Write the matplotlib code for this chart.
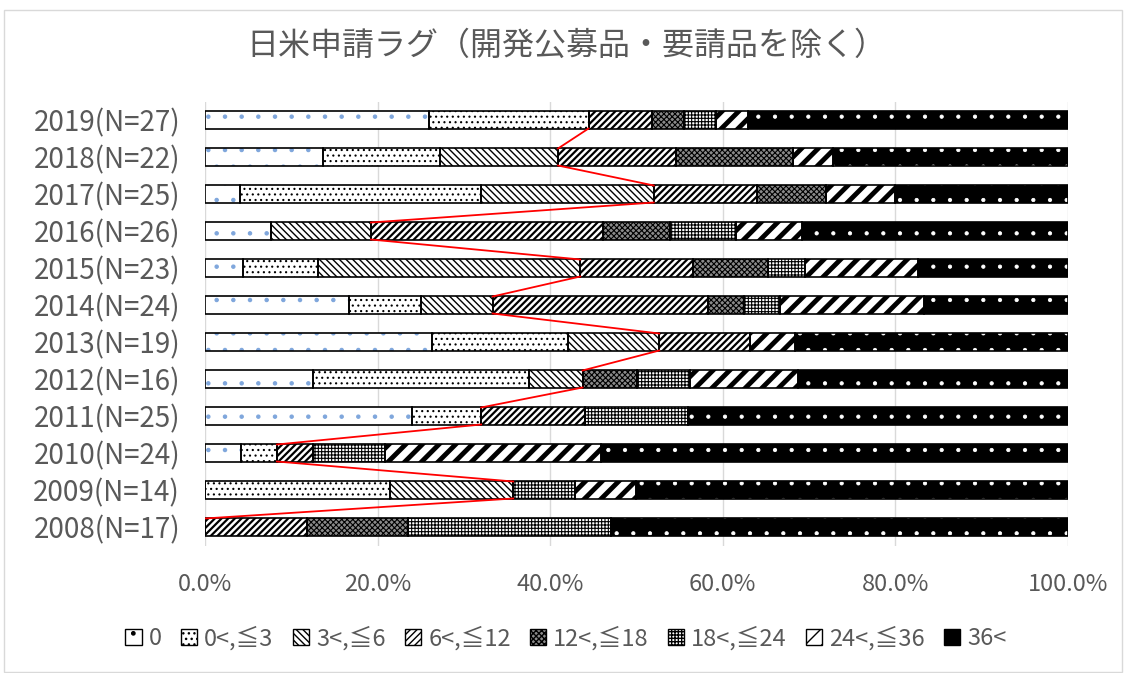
import numpy as np
import matplotlib
matplotlib.use("Agg")
import matplotlib.pyplot as plt
from matplotlib.patches import Patch, Rectangle

plt.rcParams['font.family'] = ['Noto Sans CJK JP', 'DejaVu Sans']

# data: number of products per lag class (months), 2008 .. 2019
years = [2008, 2009, 2010, 2011, 2012, 2013, 2014, 2015, 2016, 2017, 2018, 2019]
categories = ['0', '0<,≦3', '3<,≦6', '6<,≦12', '12<,≦18', '18<,≦24', '24<,≦36', '36<']
lag_0 = [0, 0, 1, 6, 2, 5, 4, 1, 2, 1, 3, 7]
lag_3 = [0, 3, 1, 2, 4, 3, 2, 2, 0, 7, 3, 5]
lag_6 = [0, 2, 0, 0, 1, 2, 2, 7, 3, 5, 3, 0]
lag_12 = [2, 0, 1, 3, 0, 2, 6, 3, 7, 3, 3, 2]
lag_18 = [2, 0, 0, 0, 1, 0, 1, 2, 2, 2, 3, 1]
lag_24 = [4, 1, 2, 3, 1, 0, 1, 1, 2, 0, 0, 1]
lag_36 = [0, 1, 6, 0, 2, 1, 4, 3, 2, 2, 1, 1]
lag_over = [9, 7, 13, 11, 5, 6, 4, 4, 8, 5, 6, 10]

counts = np.array([lag_0, lag_3, lag_6, lag_12, lag_18, lag_24, lag_36, lag_over], dtype=float)
totals = counts.sum(axis=0)
shares = counts / totals
labels = [f"{y}(N={int(n)})" for y, n in zip(years, totals)]

# (face, hatch colour, hatch, hatch linewidth)
styles = [
    ('white', '#7fa6dc', '.', 0.8),
    ('white', 'black', '...', 0.8),
    ('white', 'black', '\\\\\\\\\\', 1.0),
    ('white', 'black', '/////', 1.6),
    ('#8a8a8a', 'black', 'xxxxxx', 0.8),
    ('white', 'black', '+++++', 0.8),
    ('white', 'black', '//', 3.5),
    ('black', 'white', '.', 0.6),
]

fig = plt.figure(figsize=(11.32, 6.73), dpi=100)
ax = fig.add_axes([205 / 1132, 1 - 545.5 / 673, 863 / 1132, 444 / 673])

y = np.arange(len(years))
h = 0.46
left = np.zeros(len(years))
for k, (fc, hc, ht, lw) in enumerate(styles):
    with plt.rc_context({'hatch.linewidth': lw}):
        bars = ax.barh(y, shares[k], height=h, left=left, color=fc,
                       edgecolor=hc, hatch=ht, linewidth=0, zorder=2)
        for b in bars:
            if hasattr(b, 'set_hatch_linewidth'):
                b.set_hatch_linewidth(lw)
    ax.barh(y, shares[k], height=h, left=left, fill=False,
            edgecolor='black', linewidth=1.2, zorder=3)
    left += shares[k]

# series line at the end of "3<,≦6"
cum6 = shares[:3].sum(axis=0)
for i in range(len(years) - 1):
    ax.plot([cum6[i], cum6[i + 1]], [y[i] + h / 2, y[i + 1] - h / 2],
            color='#ff0000', linewidth=1.3, zorder=4)

ax.set_xlim(0, 1.0)
ax.set_ylim(-0.5, len(years) - 0.5)
ax.set_xticks(np.linspace(0, 1, 6))
ax.set_xticklabels([f"{v:.1f}%" for v in np.linspace(0, 100, 6)])
ax.set_yticks(y)
ax.set_yticklabels(labels)
ax.tick_params(length=0, labelcolor='#595959')
ax.tick_params(axis='x', pad=20, labelsize=17)
ax.tick_params(axis='y', pad=18, labelsize=20)
for s in ax.spines.values():
    s.set_visible(False)
ax.grid(axis='x', color='#d9d9d9', linewidth=1, zorder=0)
ax.set_axisbelow(True)

fig.suptitle('日米申請ラグ（開発公募品・要請品を除く）', y=0.955,
             fontsize=23, color='#595959')

handles = []
for fc, hc, ht, lw in styles:
    handles.append(Patch(facecolor=fc, edgecolor='black', hatch=ht, linewidth=1))
fig.legend(handles, categories, loc='center', bbox_to_anchor=(0.5, 1 - 638 / 673),
           ncol=8, frameon=False, fontsize=17, labelcolor='#595959',
           handlelength=0.7, handleheight=0.7, handletextpad=0.3, columnspacing=0.8)

fig.patches.append(Rectangle((4 / 1132, 0.002), 1118 / 1132, 1 - 10 / 673 - 0.002,
                             transform=fig.transFigure, fill=False,
                             edgecolor='#d9d9d9', linewidth=1))

fig.savefig('out.png', dpi=100)
